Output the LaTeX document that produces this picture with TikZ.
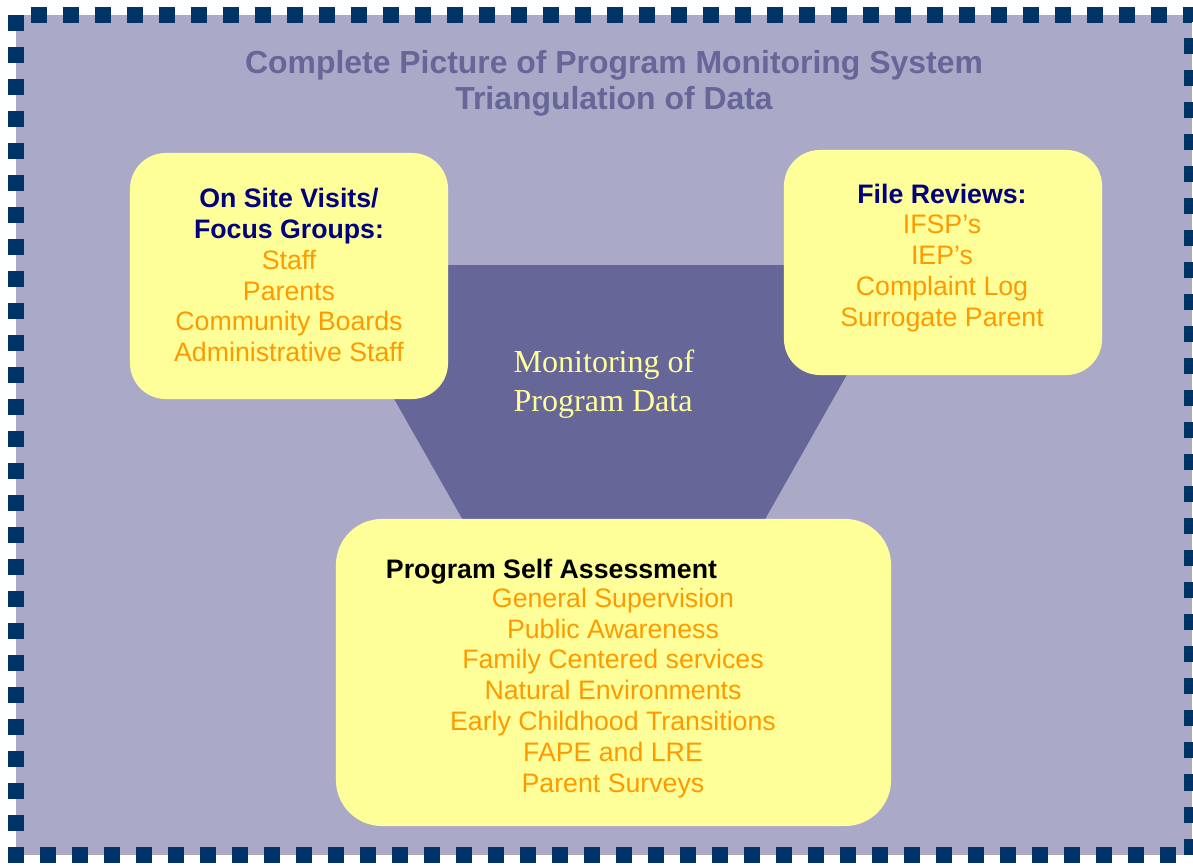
\documentclass[tikz,border=0pt]{standalone}
\usepackage{fontspec}
\setmainfont{Liberation Sans}
\newfontfamily\serifface{Liberation Serif}
\usetikzlibrary{positioning}
\definecolor{panelbg}{RGB}{170,170,200}
\definecolor{framedot}{RGB}{0,51,102}
\definecolor{funnel}{RGB}{102,102,153}
\definecolor{notefill}{RGB}{255,255,153}
\definecolor{itemorange}{RGB}{255,153,0}
\definecolor{headnavy}{RGB}{0,0,128}

\begin{document}
\begin{tikzpicture}[x=0.025cm,y=-0.025cm,
    note/.style={fill=notefill,rounded corners=0.9cm,inner sep=0pt},
    items/.style={align=center,text=itemorange,font=\fontsize{19}{22}\selectfont},
    heading/.style={text=headnavy,font=\bfseries}]
    \useasboundingbox (0,0) rectangle (1193,867);
    \fill[panelbg] (16,15) rectangle (1192,855);
    \draw[framedot,line width=0.4cm,dash pattern=on 0.4cm off 0.4cm] (16,15) -- (16,855) -- (1192,855) -- (1192,15) -- cycle;
    \node[align=center,text=funnel,font=\fontsize{22.7}{25.6}\selectfont\bfseries](title) at (614,83){Complete Picture of Program Monitoring System\\Triangulation of Data};
    \fill[funnel] (318,265) -- (909,265) -- (614,786) -- cycle;
    \node[align=left,text=notefill,font=\serifface\fontsize{22.8}{27.6}\selectfont](monitor) at (604,384.5){Monitoring of\\Program Data};
    \node[note,minimum width=7.95cm,minimum height=6.15cm](onsite) at (289,276){};
    \node[note,minimum width=7.95cm,minimum height=5.625cm](files) at (943,262.5){};
    \node[note,rounded corners=1.15cm,minimum width=13.875cm,minimum height=7.675cm](selfassess) at (613.5,672.5){};
    \node[items](onsite text) at (289,275){\textcolor{headnavy}{\bfseries On Site Visits/}\\\textcolor{headnavy}{\bfseries Focus Groups:}\\Staff\\Parents\\Community Boards\\Administrative Staff};
    \node[items](files text) at (942,258){\textcolor{headnavy}{\bfseries File Reviews:}\\IFSP’s\\IEP’s\\Complaint Log\\Surrogate Parent};
    \node[anchor=west,font=\fontsize{19}{22}\selectfont\bfseries](selfassess head) at (381,572){Program Self Assessment};
    \node[items](selfassess text) at (613,693){General Supervision\\Public Awareness\\Family Centered services\\Natural Environments\\Early Childhood Transitions\\FAPE and LRE\\Parent Surveys};
\end{tikzpicture}
\end{document}
